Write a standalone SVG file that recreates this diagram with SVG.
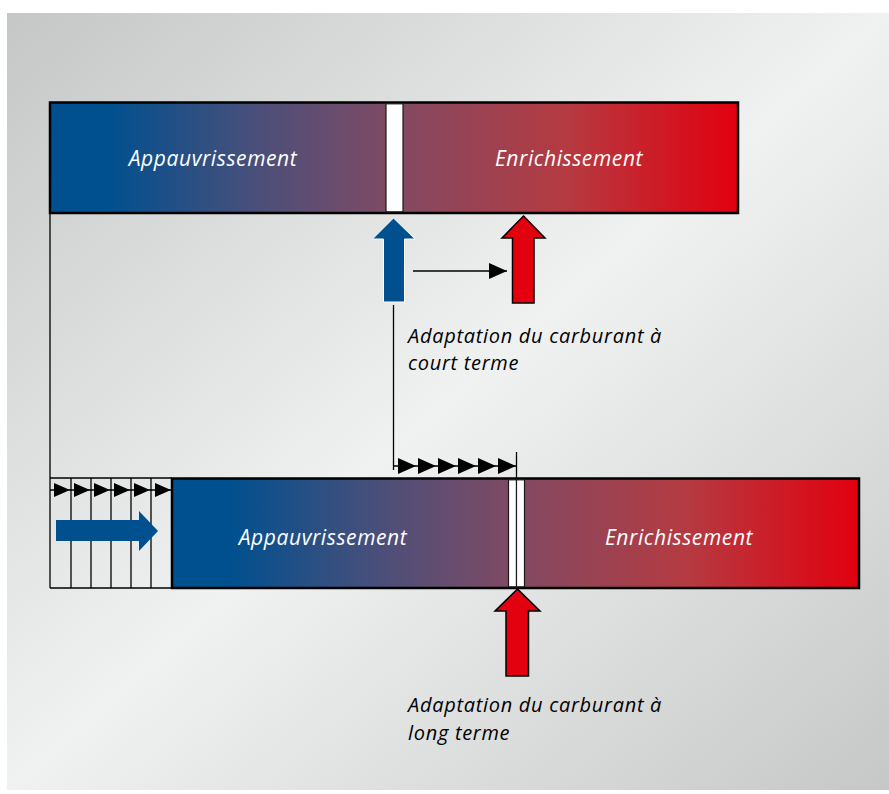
<svg xmlns="http://www.w3.org/2000/svg" width="889" height="794" viewBox="0 0 889 794">
<defs>
<linearGradient id="bg" x1="0" y1="0" x2="1" y2="1">
<stop offset="0" stop-color="#c5c6c6"/>
<stop offset="0.5" stop-color="#f0f1f1"/>
<stop offset="1" stop-color="#c6c7c7"/>
</linearGradient>
<linearGradient id="barTop" gradientUnits="userSpaceOnUse" x1="50" y1="0" x2="738" y2="0">
<stop offset="0" stop-color="#00508f"/>
<stop offset="0.085" stop-color="#00508f"/>
<stop offset="0.3" stop-color="#4a4f7a"/>
<stop offset="0.5" stop-color="#814a63"/>
<stop offset="0.75" stop-color="#b53a41"/>
<stop offset="1" stop-color="#e3000f"/>
</linearGradient>
<linearGradient id="barBot" gradientUnits="userSpaceOnUse" x1="172" y1="0" x2="859" y2="0">
<stop offset="0" stop-color="#00508f"/>
<stop offset="0.085" stop-color="#00508f"/>
<stop offset="0.3" stop-color="#4a4f7a"/>
<stop offset="0.5" stop-color="#814a63"/>
<stop offset="0.75" stop-color="#b53a41"/>
<stop offset="1" stop-color="#e3000f"/>
</linearGradient>
<marker id="tri" markerWidth="18" markerHeight="16" refX="18" refY="8" orient="auto" markerUnits="userSpaceOnUse">
<path d="M0,0 L18,8 L0,16 Z" fill="#000"/>
</marker>
</defs>
<style>
.bar{stroke:#000;stroke-width:2.5}
.gap{fill:#fff;stroke:#1a1a1a;stroke-width:1.2}
.lbl{font-family:"Open Sans","Noto Sans",sans-serif;font-style:italic;font-size:21px;letter-spacing:0.6px;fill:#fff}
.cap{font-family:"Open Sans","Noto Sans",sans-serif;font-style:italic;font-size:20px;letter-spacing:0.7px;fill:#000}
.ln{stroke:#000;stroke-width:1.3;fill:none}
.tri{fill:#000}
.red{fill:#e3000f;stroke:#000;stroke-width:1.5}
.blue{fill:#00508f}
</style>
<rect x="7" y="13" width="882" height="777" fill="url(#bg)"/>

<g id="connectors">
<line class="ln" x1="50" y1="213" x2="50" y2="588"/>
<line class="ln" x1="50" y1="478" x2="172" y2="478"/>
<line class="ln" x1="50" y1="588" x2="172" y2="588"/>
<line class="ln" x1="50" y1="490" x2="172" y2="490"/>
<line class="ln" x1="71" y1="478" x2="71" y2="588"/>
<line class="ln" x1="91" y1="478" x2="91" y2="588"/>
<line class="ln" x1="111" y1="478" x2="111" y2="588"/>
<line class="ln" x1="131" y1="478" x2="131" y2="588"/>
<line class="ln" x1="151" y1="478" x2="151" y2="588"/>
<path class="tri" d="M54,483 L70,490 L54,497 Z M74,483 L90,490 L74,497 Z M94,483 L110,490 L94,497 Z M114,483 L130,490 L114,497 Z M134,483 L150,490 L134,497 Z M155,483 L171,490 L155,497 Z"/>
<line class="ln" x1="393.5" y1="305" x2="393.5" y2="470"/>
<line class="ln" x1="393.5" y1="466" x2="516.5" y2="466"/>
<line class="ln" x1="516.5" y1="452" x2="516.5" y2="478"/>
<path class="tri" d="M398,458 L416,466 L398,474 Z M418,458 L436,466 L418,474 Z M438,458 L456,466 L438,474 Z M458,458 L476,466 L458,474 Z M478,458 L496,466 L478,474 Z M498,458 L516,466 L498,474 Z"/>
<line class="ln" x1="413" y1="271" x2="507" y2="271" marker-end="url(#tri)"/>
</g>

<g id="bar-top">
<rect class="bar" x="50" y="102.5" width="688" height="110.5" fill="url(#barTop)"/>
<rect class="gap" x="386" y="103.8" width="17" height="108"/>
<text class="lbl" x="213" y="166" text-anchor="middle">Appauvrissement</text>
<text class="lbl" x="569" y="166" text-anchor="middle">Enrichissement</text>
</g>

<g id="bar-bottom">
<rect class="bar" x="172" y="478.5" width="687" height="109.5" fill="url(#barBot)"/>
<rect class="gap" x="508.5" y="479.8" width="8" height="107"/>
<rect class="gap" x="516.5" y="479.8" width="8" height="107"/>
<text class="lbl" x="323" y="545" text-anchor="middle">Appauvrissement</text>
<text class="lbl" x="679" y="545" text-anchor="middle">Enrichissement</text>
</g>

<g id="arrow-blue-right">
<path class="blue" d="M56,520 L139,520 L139,511 L158,531 L139,551 L139,541 L56,541 Z"/>
</g>

<g id="arrow-blue-up">
<path class="blue" d="M393.5,218 L415,239 L404.5,239 L404.5,302 L383.5,302 L383.5,239 L372.5,239 Z" stroke="#fff" stroke-width="1"/>
</g>

<g id="arrow-red-short">
<path class="red" d="M523.5,216 L545,238 L534,238 L534,303 L512.5,303 L512.5,238 L502,238 Z"/>
</g>

<g id="arrow-red-long">
<path class="red" d="M517.5,589 L540,611 L528.5,611 L528.5,676 L506,676 L506,611 L495,611 Z"/>
</g>

<g id="label-short">
<text class="cap" x="408" y="343">Adaptation du carburant à</text>
<text class="cap" x="408" y="370">court terme</text>
</g>

<g id="label-long">
<text class="cap" x="408" y="712">Adaptation du carburant à</text>
<text class="cap" x="408" y="740">long terme</text>
</g>
</svg>
